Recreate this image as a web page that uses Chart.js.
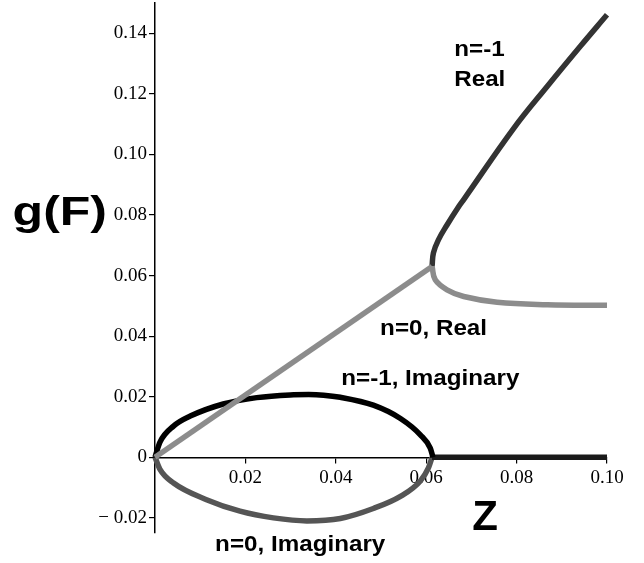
<!DOCTYPE html>
<html>
<head>
<meta charset="utf-8">
<script src="https://cdn.jsdelivr.net/npm/chart.js@4"></script>
<style>
  body { margin: 0; background: #fff; }
  #myChart { display: block; }
</style>
</head>
<body>
<canvas id="myChart" width="644" height="563"></canvas>
<script>
// tick values
const xTicks = [0.02, 0.04, 0.06, 0.08, 0.10];
const yTicks = [-0.02, 0, 0.02, 0.04, 0.06, 0.08, 0.10, 0.12, 0.14];

// n=-1, real branch (upper)
const nm1RealX = [0.0613, 0.0616, 0.0627, 0.0646, 0.0672, 0.0683, 0.0794, 0.0868, 0.0941, 0.1000];
const nm1RealY = [0.0630, 0.0675, 0.0718, 0.0767, 0.0828, 0.0851, 0.1087, 0.1225, 0.1357, 0.1461];

// n=0, real: straight part and lower branch
const n0LineX = [0, 0.0613];
const n0LineY = [0, 0.0630];
const n0BranchX = [0.0613, 0.0620, 0.0646, 0.0683, 0.0757, 0.0868, 0.1000];
const n0BranchY = [0.0630, 0.0586, 0.0553, 0.0531, 0.0512, 0.0504, 0.0502];

// n=-1, imaginary (upper loop)
const nm1ImagX = [0, 0.0011, 0.0041, 0.0078, 0.0151, 0.0225, 0.0299, 0.0340, 0.0373, 0.0410, 0.0483, 0.0543, 0.0587, 0.0609, 0.0615];
const nm1ImagY = [0, 0.0050, 0.0103, 0.0136, 0.0176, 0.0197, 0.0206, 0.0207, 0.0205, 0.0198, 0.0172, 0.0128, 0.0074, 0.0030, 0];

// n=0, imaginary (lower loop)
const n0ImagX = [0, 0.0011, 0.0041, 0.0114, 0.0188, 0.0262, 0.0336, 0.0410, 0.0483, 0.0543, 0.0587, 0.0605, 0.0613];
const n0ImagY = [0, -0.0040, -0.0085, -0.0140, -0.0178, -0.0200, -0.0210, -0.0202, -0.0169, -0.0129, -0.0078, -0.0035, 0];

// both imaginary parts lie on the axis past the loop
const tailX = [0.0613, 0.1000];
const tailY = [0, 0];

function pts(xs, ys) {
  return xs.map((x, i) => ({ x: x, y: ys[i] }));
}

// text labels placed in data coordinates
const notes = [
  { text: "n=-1", x: 0.0662, y: 0.1326, size: 22, sx: 1.1 },
  { text: "Real", x: 0.0662, y: 0.1227, size: 22, sx: 1.1 },
  { text: "n=0, Real", x: 0.0498, y: 0.0405, size: 22, sx: 1.1 },
  { text: "n=-1, Imaginary", x: 0.0412, y: 0.0240, size: 22, sx: 1.1 },
  { text: "n=0, Imaginary", x: 0.0133, y: -0.0310, size: 22, sx: 1.1 },
  { text: "Z", x: 0.0702, y: -0.0239, size: 42, sx: 1.0 },
  { text: "g(F)", x: -0.0315, y: 0.0767, size: 40, sx: 1.25 },
];

const notesPlugin = {
  id: "notes",
  afterDraw(chart) {
    const c = chart.ctx;
    const xs = chart.scales.x, ys = chart.scales.y;
    c.save();
    c.fillStyle = "#000";
    c.textAlign = "left";
    c.textBaseline = "alphabetic";
    notes.forEach((n) => {
      c.save();
      c.translate(xs.getPixelForValue(n.x), ys.getPixelForValue(n.y));
      c.scale(n.sx, 1);
      c.font = "bold " + n.size + "px 'Liberation Sans', Arial, sans-serif";
      c.fillText(n.text, 0, 0);
      c.restore();
    });
    c.restore();
  },
};

function fmt(v) {
  if (Math.abs(v) < 1e-9) return "0";
  if (v < 0) return "\u2212 " + (-v).toFixed(2);
  return v.toFixed(2);
}

const common = { showLine: true, pointRadius: 0, borderWidth: 5.5, tension: 0.4, borderJoinStyle: "round", clip: false, fill: false };
const loop = { cubicInterpolationMode: "monotone" };
const tickFont = { family: "Liberation Serif", size: 19 };

const ctx = document.getElementById("myChart").getContext("2d");

const myChart = new Chart(ctx, {
  type: "scatter",
  data: {
    datasets: [
      Object.assign({ label: "n=0, Real", data: pts(n0LineX, n0LineY), borderColor: "#8c8c8c", order: 0 }, common, { tension: 0 }),
      Object.assign({ label: "n=0, Real branch", data: pts(n0BranchX, n0BranchY), borderColor: "#8c8c8c", order: 1 }, common),
      Object.assign({ label: "n=-1, Real", data: pts(nm1RealX, nm1RealY), borderColor: "#333333", order: 2 }, common),
      Object.assign({ label: "n=-1, Imaginary", data: pts(nm1ImagX, nm1ImagY), borderColor: "#000000", order: 3 }, common, loop),
      Object.assign({ label: "n=-1, Imaginary tail", data: pts(tailX, tailY), borderColor: "#1a1a1a", order: 4 }, common, { tension: 0 }),
      Object.assign({ label: "n=0, Imaginary", data: pts(n0ImagX, n0ImagY), borderColor: "#555555", order: 5 }, common, loop),
    ],
  },
  options: {
    responsive: false,
    animation: false,
    layout: { padding: { left: 0, right: 37, top: 3, bottom: 30 } },
    plugins: { legend: { display: false }, tooltip: { enabled: false } },
    scales: {
      x: {
        type: "linear",
        position: { y: 0 },
        min: 0,
        max: 0.1,
        afterBuildTicks: (s) => { s.ticks = xTicks.map((v) => ({ value: v })); },
        afterFit: (s) => { s.paddingLeft = 0; s.paddingRight = 0; },
        grid: { drawOnChartArea: false, drawTicks: true, tickLength: 5, color: "#000", lineWidth: 1.2 },
        border: { display: true, color: "#000", width: 1.5 },
        ticks: {
          color: "#000",
          padding: 4,
          maxRotation: 0,
          autoSkip: false,
          font: tickFont,
          callback: (v) => fmt(v),
        },
      },
      y: {
        type: "linear",
        position: "left",
        min: -0.025,
        max: 0.15,
        afterBuildTicks: (s) => { s.ticks = yTicks.map((v) => ({ value: v })); },
        afterFit: (s) => { s.width = 155; s.paddingTop = 0; s.paddingBottom = 0; },
        grid: { drawOnChartArea: false, drawTicks: true, tickLength: 6, color: "#000", lineWidth: 1.2 },
        border: { display: true, color: "#000", width: 1.5 },
        ticks: {
          color: "#000",
          padding: 2,
          autoSkip: false,
          font: tickFont,
          callback: (v) => fmt(v),
        },
      },
    },
  },
  plugins: [notesPlugin],
});
</script>
</body>
</html>
